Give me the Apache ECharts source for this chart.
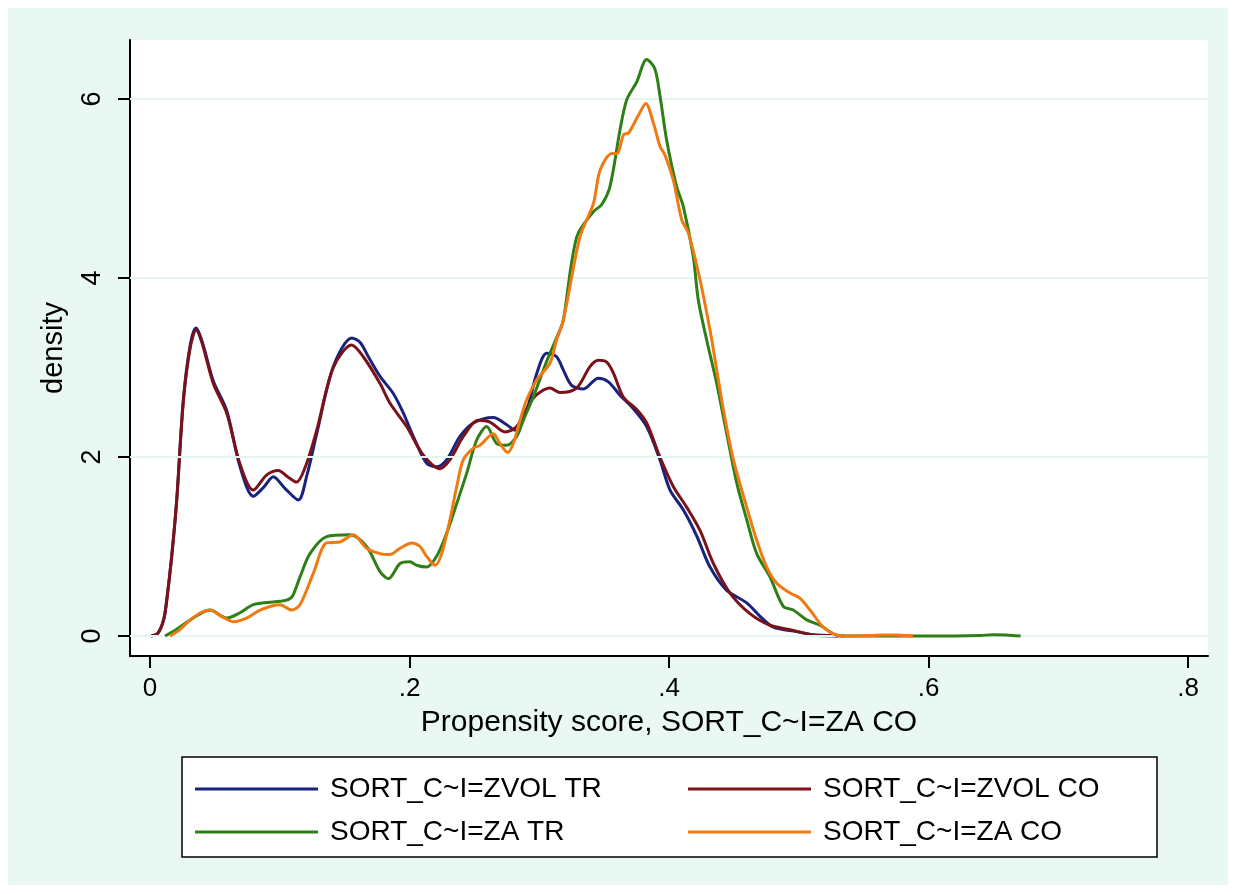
<!DOCTYPE html>
<html>
<head>
<meta charset="utf-8">
<script src="https://cdn.jsdelivr.net/npm/echarts@6/dist/echarts.min.js"></script>
<style>
html,body{margin:0;padding:0;background:#fff;}
#chart{width:1236px;height:894px;}
</style>
</head>
<body>
<div id="chart"></div>
<script>
// ---- data ----
const seriesNames = ['SORT_C~I=ZVOL TR', 'SORT_C~I=ZVOL CO', 'SORT_C~I=ZA TR', 'SORT_C~I=ZA CO'];
const xTickValues = [0, 0.2, 0.4, 0.6, 0.8];
const yTickValues = [0, 2, 4, 6];
const xTitle = 'Propensity score, SORT_C~I=ZA CO';
const yTitle = 'density';

const zvolTr = [[0.001,0],[0.006,0.03],[0.0105,0.18],[0.0129,0.40],[0.0168,0.9],[0.0206,1.52],[0.0257,2.64],[0.031,3.25],[0.0355,3.44],[0.040,3.3],[0.0488,2.85],[0.0591,2.52],[0.0694,1.89],[0.0796,1.56],[0.0875,1.66],[0.0950,1.78],[0.104,1.65],[0.1143,1.52],[0.1210,1.8],[0.1285,2.26],[0.1413,3.01],[0.1555,3.33],[0.1620,3.28],[0.1683,3.12],[0.1773,2.90],[0.1875,2.71],[0.1953,2.49],[0.2029,2.23],[0.2132,1.93],[0.2209,1.89],[0.2287,1.97],[0.2389,2.23],[0.2492,2.38],[0.2646,2.44],[0.2749,2.36],[0.2813,2.30],[0.2903,2.52],[0.298,2.93],[0.3057,3.16],[0.3134,3.12],[0.3186,2.97],[0.325,2.80],[0.334,2.76],[0.3455,2.88],[0.3533,2.84],[0.3622,2.69],[0.3725,2.54],[0.3828,2.34],[0.393,1.97],[0.4008,1.63],[0.411,1.41],[0.4213,1.12],[0.4316,0.77],[0.4445,0.51],[0.4599,0.37],[0.4702,0.22],[0.4804,0.10],[0.4984,0.05],[0.5138,0.01],[0.535,0]];

const zvolCo = [[0.001,0],[0.006,0.03],[0.0105,0.18],[0.0129,0.40],[0.0168,0.9],[0.0206,1.52],[0.0257,2.62],[0.031,3.22],[0.0355,3.42],[0.040,3.28],[0.0488,2.82],[0.0591,2.49],[0.0694,1.92],[0.0796,1.63],[0.0900,1.8],[0.0988,1.85],[0.106,1.78],[0.1130,1.72],[0.1200,1.9],[0.1285,2.30],[0.1413,3.0],[0.1554,3.25],[0.1644,3.12],[0.1773,2.82],[0.185,2.60],[0.1978,2.34],[0.2107,2.02],[0.2235,1.87],[0.2312,1.97],[0.2415,2.23],[0.253,2.41],[0.262,2.39],[0.2736,2.28],[0.2826,2.34],[0.2954,2.66],[0.3083,2.77],[0.316,2.72],[0.3288,2.77],[0.3391,3.01],[0.3455,3.08],[0.352,3.06],[0.3571,2.94],[0.3648,2.67],[0.3751,2.53],[0.3828,2.38],[0.393,2.0],[0.4033,1.67],[0.4136,1.44],[0.4239,1.18],[0.4342,0.81],[0.447,0.48],[0.4624,0.25],[0.4778,0.12],[0.4933,0.07],[0.5112,0.01],[0.53,0]];

const zaTr = [[0.0116,0],[0.02,0.07],[0.031,0.18],[0.039,0.25],[0.0462,0.29],[0.0591,0.20],[0.0694,0.26],[0.0796,0.35],[0.0950,0.38],[0.1053,0.40],[0.110,0.45],[0.1156,0.66],[0.1233,0.92],[0.1361,1.11],[0.1541,1.13],[0.1669,1.0],[0.1773,0.72],[0.1837,0.64],[0.1927,0.81],[0.2004,0.83],[0.2055,0.79],[0.2132,0.77],[0.2209,0.89],[0.2287,1.15],[0.2364,1.48],[0.2441,1.82],[0.2518,2.19],[0.2595,2.34],[0.2672,2.15],[0.2749,2.13],[0.2826,2.23],[0.2877,2.41],[0.2954,2.67],[0.3031,2.97],[0.3083,3.16],[0.316,3.42],[0.3186,3.53],[0.3289,4.46],[0.3417,4.74],[0.3481,4.82],[0.3545,5.02],[0.3622,5.65],[0.3674,5.99],[0.3751,6.19],[0.3828,6.44],[0.389,6.34],[0.3931,6.03],[0.3982,5.54],[0.4059,5.02],[0.411,4.80],[0.4187,4.24],[0.4226,3.75],[0.429,3.31],[0.4368,2.82],[0.4445,2.26],[0.4522,1.71],[0.4599,1.30],[0.4676,0.92],[0.4778,0.66],[0.4881,0.33],[0.4958,0.29],[0.5061,0.18],[0.5164,0.12],[0.5292,0.01],[0.54,0],[0.62,0],[0.64,0.005],[0.65,0.015],[0.66,0.012],[0.671,0]];

const zaCo = [[0.0154,0],[0.022,0.06],[0.031,0.18],[0.039,0.26],[0.0462,0.29],[0.055,0.22],[0.0642,0.16],[0.0745,0.2],[0.0848,0.29],[0.1002,0.35],[0.1092,0.29],[0.1156,0.35],[0.1259,0.70],[0.1361,1.04],[0.1464,1.05],[0.1567,1.13],[0.1669,0.98],[0.1773,0.92],[0.185,0.91],[0.1927,0.98],[0.2017,1.04],[0.2081,1.00],[0.2132,0.89],[0.2197,0.79],[0.2248,0.92],[0.2312,1.30],[0.2364,1.67],[0.2415,1.97],[0.2492,2.10],[0.2543,2.13],[0.2646,2.26],[0.2697,2.15],[0.2757,2.05],[0.28,2.15],[0.2852,2.41],[0.2903,2.64],[0.298,2.86],[0.3083,3.05],[0.3134,3.31],[0.3186,3.53],[0.3314,4.46],[0.3417,4.83],[0.347,5.21],[0.356,5.39],[0.3598,5.39],[0.365,5.60],[0.3688,5.62],[0.3765,5.82],[0.3821,5.95],[0.388,5.73],[0.3931,5.47],[0.397,5.37],[0.4034,5.09],[0.4098,4.65],[0.415,4.50],[0.4239,3.98],[0.4316,3.42],[0.4342,3.20],[0.4419,2.53],[0.4496,1.97],[0.4599,1.44],[0.4676,1.07],[0.4753,0.77],[0.483,0.59],[0.4933,0.48],[0.501,0.42],[0.5087,0.29],[0.5189,0.10],[0.53,0.01],[0.54,0],[0.555,0.005],[0.565,0.012],[0.575,0.01],[0.588,0]];

const seriesData = [zvolTr, zvolCo, zaTr, zaCo];
const colors = ['#17237f', '#7b1219', '#2d7f16', '#f07a12'];

// ---- chart ----
const FONT = '"Liberation Sans", Arial, Helvetica, sans-serif';
const chart = echarts.init(document.getElementById('chart'), null, {renderer: 'canvas'});

const fmtX = v => {
  if (Math.abs(v) < 1e-9) return '0';
  return (Math.round(v * 10) / 10).toString().replace(/^0/, '');
};

const series = seriesData.map((d, i) => ({
  name: seriesNames[i],
  type: 'line',
  data: d,
  showSymbol: false,
  symbol: 'none',
  smooth: 0.3,
  z: 3 + i,
  lineStyle: {color: colors[i], width: 3},
  itemStyle: {color: colors[i]},
  emphasis: {disabled: true}
}));

// grid lines through a helper series
series.unshift({
  name: '_grid',
  type: 'line',
  data: [],
  z: 1,
  silent: true,
  markLine: {
    silent: true,
    symbol: 'none',
    label: {show: false},
    lineStyle: {color: '#e4f4ef', width: 2, type: 'solid'},
    emphasis: {disabled: true},
    data: yTickValues.map(v => ({yAxis: v}))
  }
});

chart.setOption({
  animation: false,
  backgroundColor: '#ffffff',
  color: colors,
  graphic: [
    {type: 'rect', z: -10, silent: true, shape: {x: 8, y: 8, width: 1220, height: 877}, style: {fill: '#eaf8f4'}},
    {type: 'rect', z: -9, silent: true, shape: {x: 130, y: 40, width: 1078, height: 616}, style: {fill: '#ffffff'}},
    {type: 'rect', z: -9, silent: true, shape: {x: 182, y: 757, width: 975, height: 100}, style: {fill: '#ffffff', stroke: '#000', lineWidth: 1.5}}
  ],
  grid: {left: 130, top: 40, width: 1078, height: 616, containLabel: false, show: false},
  xAxis: {
    type: 'value',
    min: -0.01541,
    max: 0.81541,
    name: xTitle,
    nameLocation: 'middle',
    nameGap: 52,
    nameTextStyle: {fontFamily: FONT, fontSize: 30, color: '#000'},
    axisLine: {show: true, onZero: false, lineStyle: {color: '#000', width: 2}},
    axisTick: {show: true, customValues: xTickValues, length: 12, lineStyle: {color: '#000', width: 2}},
    axisLabel: {show: true, customValues: xTickValues, formatter: fmtX, margin: 20, fontFamily: FONT, fontSize: 26, color: '#000'},
    splitLine: {show: false}
  },
  yAxis: {
    type: 'value',
    min: -0.2235,
    max: 6.659,
    name: yTitle,
    nameLocation: 'middle',
    nameRotate: 90,
    nameGap: 62,
    nameTextStyle: {fontFamily: FONT, fontSize: 29, color: '#000'},
    axisLine: {show: true, onZero: false, lineStyle: {color: '#000', width: 2}},
    axisTick: {show: true, customValues: yTickValues, length: 12, lineStyle: {color: '#000', width: 2}},
    axisLabel: {show: true, customValues: yTickValues, rotate: 90, margin: 24, fontFamily: FONT, fontSize: 27, color: '#000'},
    splitLine: {show: false}
  },
  legend: {
    data: seriesNames,
    left: 190,
    top: 769,
    width: 1000,
    orient: 'horizontal',
    icon: 'rect',
    itemWidth: 123,
    itemHeight: 3,
    itemGap: 13,
    padding: 5,
    selectedMode: false,
    textStyle: {fontFamily: FONT, fontSize: 28, color: '#000', width: 345, lineHeight: 30, padding: [0, 0, 0, 7]}
  },
  series: series
});
</script>
</body>
</html>
